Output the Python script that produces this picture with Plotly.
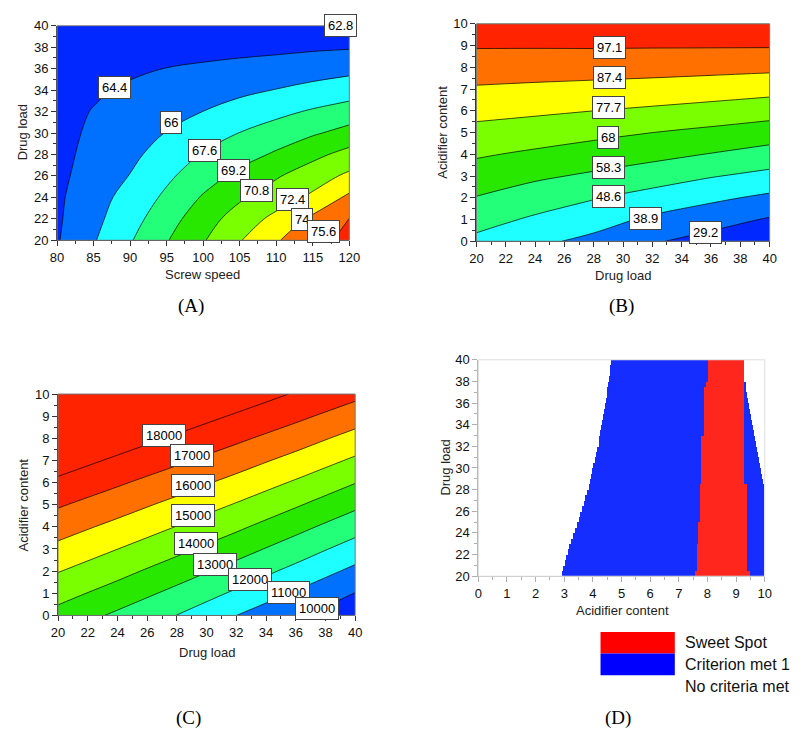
import plotly.graph_objects as go

# ---------------- Panel A: Screw speed vs Drug load ----------------
A_x = [80, 85, 90, 95, 100, 105, 110, 115, 120]
A_y = [20, 22, 24, 26, 28, 30, 32, 34, 36, 38, 40]
A_z = [
    [64.27, 65.87, 67.47, 69.10, 70.67, 72.30, 73.87, 74.99, 76.08],
    [64.18, 65.58, 67.00, 68.53, 70.11, 71.50, 72.84, 74.34, 75.63],
    [64.13, 65.35, 66.58, 67.90, 69.35, 70.58, 71.60, 72.69, 74.33],
    [64.04, 65.04, 66.05, 67.30, 68.49, 69.61, 70.64, 71.67, 72.71],
    [63.98, 64.82, 65.65, 66.65, 67.73, 68.56, 69.41, 70.38, 71.34],
    [63.94, 64.64, 65.34, 66.05, 66.84, 67.63, 68.32, 69.02, 69.71],
    [63.95, 64.46, 64.97, 65.49, 66.01, 66.59, 67.19, 67.78, 68.37],
    [63.85, 64.22, 64.58, 64.95, 65.32, 65.68, 66.05, 66.42, 66.79],
    [63.70, 63.95, 64.20, 64.43, 64.66, 64.90, 65.13, 65.37, 65.60],
    [63.30, 63.40, 63.50, 63.70, 63.80, 63.90, 64.00, 64.16, 64.27],
    [63.00, 63.00, 63.00, 62.98, 62.95, 62.93, 62.90, 62.88, 62.85],
]
A_labels = ["62.8", "64.4", "66", "67.6", "69.2", "70.8", "72.4", "74", "75.6"]
A_lab_x = [118.8, 87.8, 95.6, 100.2, 104.2, 107.3, 112.2, 113.5, 116.4]
A_lab_y = [40.0, 34.2, 31.0, 28.4, 26.5, 24.6, 23.8, 21.9, 20.8]

# ---------------- Panel B: Drug load vs Acidifier content ----------------
B_x = [20, 24, 28, 32, 36, 40]
B_y = [0, 1, 2, 3, 4, 5, 6, 7, 8, 9, 10]
B_z = [
    [46.35, 40.9, 36.5, 30.2, 25.6, 19.7],
    [52.12, 47.2, 42.8, 37.2, 33.1, 28.3],
    [57.9, 53.5, 49.2, 44.96, 40.8, 37.0],
    [63.5, 59.9, 56.8, 53.2, 49.2, 45.9],
    [69.1, 66.4, 63.65, 61.1, 57.9, 54.55],
    [74.8, 72.9, 70.5, 68.02, 65.7, 63.15],
    [80.6, 79.3, 77.72, 76.1, 74.2, 72.0],
    [86.4, 85.5, 84.6, 83.7, 82.5, 81.0],
    [92.1, 91.7, 91.4, 90.9, 90.3, 89.6],
    [97.9, 97.9, 98.0, 97.9, 97.9, 97.9],
    [103.7, 104.1, 104.6, 104.9, 105.5, 106.2],
]
B_labels = ["97.1", "87.4", "77.7", "68", "58.3", "48.6", "38.9", "29.2"]
B_lab_x = [29.05, 29.1, 29.0, 29.0, 29.0, 29.0, 31.5, 35.6]
B_lab_y = [8.9, 7.55, 6.13, 4.77, 3.39, 2.04, 1.05, 0.42]

# ---------------- Panel C: Drug load vs Acidifier content ----------------
C_x = [20, 24, 28, 32, 36, 40]
C_y = [0, 1, 2, 3, 4, 5, 6, 7, 8, 9, 10]
C_z = [
    [13664, 12819, 11985, 11003, 10196, 9176],
    [14373, 13581, 12721, 11847, 10895, 9977],
    [15043, 14317, 13488, 12621, 11720, 10758],
    [15752, 15007, 14252, 13400, 12515, 11580],
    [16433, 15732, 14971, 14185, 13301, 12400],
    [17105, 16437, 15716, 14926, 14109, 13207],
    [17804, 17133, 16449, 15692, 14884, 14032],
    [18504, 17832, 17167, 16455, 15675, 14839],
    [19204, 18532, 17861, 17194, 16468, 15650],
    [19904, 19232, 18560, 17889, 17228, 16475],
    [20604, 19932, 19260, 18605, 17917, 17255],
]
C_labels = ["18000", "17000", "16000", "15000", "14000", "13000", "12000", "11000", "10000"]
C_lab_x = [27.1, 29.0, 29.06, 29.06, 29.3, 30.55, 32.9, 35.5, 37.45]
C_lab_y = [8.14, 7.24, 5.88, 4.53, 3.23, 2.3, 1.64, 1.02, 0.31]

# ---------------- Panel D: design space (Acidifier content vs Drug load) ----------------
D_y = [20.25, 20.75, 21.25, 21.75, 22.25, 22.75, 23.25, 23.75, 24.25, 24.75,
       25.25, 25.75, 26.25, 26.75, 27.25, 27.75, 28.25, 28.75, 29.25, 29.75,
       30.25, 30.75, 31.25, 31.75, 32.25, 32.75, 33.25, 33.75, 34.25, 34.75,
       35.25, 35.75, 36.25, 36.75, 37.25, 37.75, 38.25, 38.75, 39.25, 39.75]
D_blue_left = [2.92, 2.97, 3.02, 3.08, 3.13, 3.19, 3.25, 3.31, 3.38, 3.44,
               3.51, 3.57, 3.63, 3.69, 3.75, 3.81, 3.86, 3.90, 3.94, 3.98,
               4.02, 4.07, 4.12, 4.17, 4.21, 4.24, 4.27, 4.30, 4.33, 4.37,
               4.40, 4.43, 4.46, 4.49, 4.52, 4.55, 4.58, 4.60, 4.62, 4.64]
D_red_left = [7.57, 7.63, 7.63, 7.63, 7.63, 7.63, 7.68, 7.68, 7.68, 7.68,
              7.74, 7.74, 7.74, 7.74, 7.74, 7.74, 7.74, 7.80, 7.80, 7.80,
              7.80, 7.80, 7.80, 7.80, 7.80, 7.80, 7.88, 7.88, 7.88, 7.88,
              7.88, 7.88, 7.88, 7.88, 7.88, 7.96, 8.03, 8.03, 8.03, 8.03]
D_red_right = [9.48, 9.38, 9.38, 9.38, 9.38, 9.38, 9.38, 9.38, 9.38, 9.38,
               9.38, 9.38, 9.38, 9.38, 9.38, 9.38, 9.38, 9.30, 9.30, 9.30,
               9.30, 9.30, 9.30, 9.30, 9.30, 9.30, 9.30, 9.30, 9.30, 9.30,
               9.30, 9.30, 9.30, 9.30, 9.30, 9.30, 9.30, 9.30, 9.30, 9.30]
D_blue_right = [10.0, 10.0, 10.0, 10.0, 10.0, 10.0, 10.0, 10.0, 10.0, 10.0,
                10.0, 10.0, 10.0, 10.0, 10.0, 10.0, 10.0, 9.96, 9.91, 9.88,
                9.84, 9.81, 9.77, 9.74, 9.70, 9.67, 9.63, 9.60, 9.56, 9.53,
                9.49, 9.46, 9.43, 9.40, 9.37, 9.34, 9.30, 9.30, 9.30, 9.30]
D_legend = ["Sweet Spot", "Criterion met 1", "No criteria met"]

# ---------------- styling ----------------
DB = "rgb(0,40,255)"
MB = "rgb(0,112,255)"
CY = "rgb(30,255,255)"
SG = "rgb(35,255,120)"
GR = "rgb(40,232,0)"
YG = "rgb(122,255,0)"
YE = "rgb(255,255,0)"
OR = "rgb(255,112,0)"
RD = "rgb(255,35,0)"


def steps(colors):
    n = len(colors)
    return [[i / (n - 1), c] for i, c in enumerate(colors)]


W, H = 800, 730
FONT = "Liberation Sans, Arial, sans-serif"


def px(x):
    return x / W


def py(y):
    return 1 - y / H


fig = go.Figure()

fig.add_trace(go.Contour(
    x=A_x, y=A_y, z=A_z, xaxis="x", yaxis="y",
    autocontour=False,
    contours=dict(start=64.4, end=75.6, size=1.6, coloring="fill"),
    colorscale=steps([DB, MB, CY, SG, GR, YG, YE, OR, RD]),
    showscale=False, line=dict(color="black", width=0.7, smoothing=1),
    hoverinfo="skip"))

fig.add_trace(go.Contour(
    x=B_x, y=B_y, z=B_z, xaxis="x2", yaxis="y2",
    autocontour=False,
    contours=dict(start=29.2, end=97.1, size=9.7, coloring="fill"),
    colorscale=steps([DB, MB, CY, SG, GR, YG, YE, OR, RD]),
    showscale=False, line=dict(color="black", width=0.7, smoothing=1),
    hoverinfo="skip"))

fig.add_trace(go.Contour(
    x=C_x, y=C_y, z=C_z, xaxis="x3", yaxis="y3",
    autocontour=False,
    contours=dict(start=10000, end=18000, size=1000, coloring="fill"),
    colorscale=steps([DB, MB, CY, SG, GR, YG, YE, OR, RD, RD]),
    showscale=False, line=dict(color="black", width=0.7, smoothing=1),
    hoverinfo="skip"))

D_BLUE = "rgb(22,45,255)"
D_RED = "rgb(255,38,30)"
fig.add_trace(go.Bar(
    orientation="h", y=D_y, base=D_blue_left,
    x=[r - b for r, b in zip(D_red_left, D_blue_left)],
    width=0.5, marker=dict(color=D_BLUE, line=dict(width=0)),
    xaxis="x4", yaxis="y4", hoverinfo="skip"))
fig.add_trace(go.Bar(
    orientation="h", y=D_y, base=D_red_left,
    x=[r - b for r, b in zip(D_red_right, D_red_left)],
    width=0.5, marker=dict(color=D_RED, line=dict(width=0)),
    xaxis="x4", yaxis="y4", hoverinfo="skip"))
fig.add_trace(go.Bar(
    orientation="h", y=D_y, base=D_red_right,
    x=[r - b for r, b in zip(D_blue_right, D_red_right)],
    width=0.5, marker=dict(color=D_BLUE, line=dict(width=0)),
    xaxis="x4", yaxis="y4", hoverinfo="skip"))


def ax(domain, rng, dtick, minor, anchor, light=False):
    lc = "#b0b0b0" if light else "#333"
    return dict(domain=domain, range=rng, dtick=dtick, tick0=rng[0], anchor=anchor,
                showline=True, linecolor=lc, linewidth=1, ticks="outside", ticklen=5,
                tickcolor=lc, tickwidth=1, showgrid=False, zeroline=False,
                tickfont=dict(family=FONT, size=13, color="#111"),
                minor=dict(dtick=minor, ticks="outside", ticklen=3, tickcolor=lc, showgrid=False),
                fixedrange=True)


fig.update_layout(
    width=W, height=H, margin=dict(l=0, r=0, t=0, b=0),
    paper_bgcolor="white", plot_bgcolor="white", showlegend=False,
    barmode="overlay", bargap=0,
    xaxis=ax([px(43), px(342)], [80, 120], 5, 2.5, "y"),
    yaxis=ax([py(230), py(11)], [20, 40], 2, 1, "x"),
    xaxis2=ax([px(472), px(772)], [20, 40], 2, 1, "y2"),
    yaxis2=ax([py(231), py(9)], [0, 10], 1, 0.5, "x2"),
    xaxis3=ax([px(44), px(348)], [20, 40], 2, 1, "y3"),
    yaxis3=ax([py(613), py(387)], [0, 10], 1, 0.5, "x3"),
    xaxis4=ax([px(474), px(767)], [0, 10], 1, 0.5, "y4", light=True),
    yaxis4=ax([py(573), py(352)], [20, 40], 2, 1, "x4", light=True),
)

shapes = []
for xr, yr, col in [("x", "y", "#777"), ("x2", "y2", "#777"), ("x3", "y3", "#777"), ("x4", "y4", "#ddd")]:
    shapes.append(dict(type="rect", xref=xr + " domain", yref=yr + " domain",
                       x0=0, x1=1, y0=0, y1=1, line=dict(color=col, width=1), layer="above"))
# legend swatches for panel D
shapes.append(dict(type="rect", xref="paper", yref="paper", x0=px(599), x1=px(675),
                   y0=py(652), y1=py(630), fillcolor="rgb(255,0,0)", line=dict(width=0)))
shapes.append(dict(type="rect", xref="paper", yref="paper", x0=px(599), x1=px(675),
                   y0=py(674), y1=py(652), fillcolor="rgb(0,0,255)", line=dict(width=0)))
fig.update_layout(shapes=shapes)

annotations = []


def boxlabel(text, x, y, xr, yr):
    return dict(text=text, x=x, y=y, xref=xr, yref=yr, showarrow=False,
                font=dict(family=FONT, size=13, color="black"),
                bgcolor="white", bordercolor="#444", borderwidth=1, borderpad=3)


for t, x, y in zip(A_labels, A_lab_x, A_lab_y):
    annotations.append(boxlabel(t, x, y, "x", "y"))
for t, x, y in zip(B_labels, B_lab_x, B_lab_y):
    annotations.append(boxlabel(t, x, y, "x2", "y2"))
for t, x, y in zip(C_labels, C_lab_x, C_lab_y):
    annotations.append(boxlabel(t, x, y, "x3", "y3"))


def title(text, x, y, rot=0):
    return dict(text=text, x=px(x), y=py(y), xref="paper", yref="paper", showarrow=False,
                textangle=rot, font=dict(family=FONT, size=13, color="#222"),
                xanchor="center", yanchor="middle")


annotations += [
    title("Screw speed", 192, 265), title("Drug load", 8, 120, -90),
    title("Drug load", 622, 266), title("Acidifier content", 437, 120, -90),
    title("Drug load", 196, 651), title("Acidifier content", 9, 500, -90),
    title("Acidifier content", 621, 608), title("Drug load", 440, 462, -90),
]

for t, x, y in [("(A)", 180, 297), ("(B)", 620, 297), ("(C)", 177, 718), ("(D)", 617, 718)]:
    annotations.append(dict(text=t, x=px(x), y=py(y), xref="paper", yref="paper", showarrow=False,
                            font=dict(family="Liberation Serif, Times New Roman, serif", size=19, color="black"),
                            xanchor="center", yanchor="middle"))

for t, yy in zip(D_legend, [641, 663, 686]):
    annotations.append(dict(text=t, x=px(683), y=py(yy), xref="paper", yref="paper", showarrow=False,
                            font=dict(family=FONT, size=16, color="#111"),
                            xanchor="left", yanchor="middle"))

fig.update_layout(annotations=annotations)

fig.write_html("out.html")
